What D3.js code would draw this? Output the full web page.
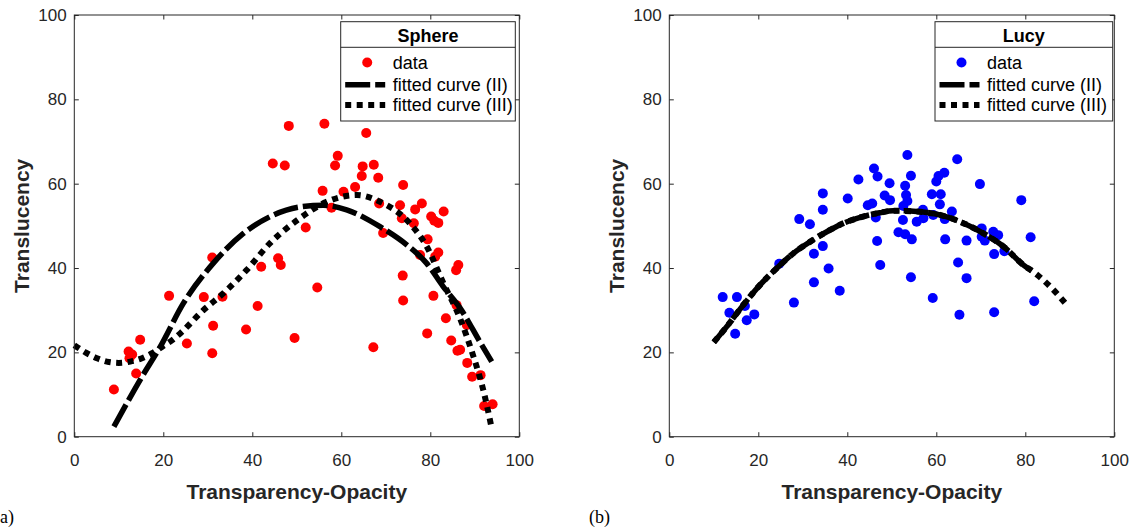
<!DOCTYPE html>
<html>
<head>
<meta charset="utf-8">
<script src="https://cdn.jsdelivr.net/npm/d3@7"></script>
<style>
    body { margin: 0; background: #fff; }
    svg { display: block; font-family: "Liberation Sans", Arial, sans-serif; }
</style>
</head>
<body>
<svg id="chart" width="1134" height="529"></svg>
<script>
/*
* Two scatter plots with fitted curves (Sphere and Lucy)
*/

var xTicks = [0, 20, 40, 60, 80, 100];
var yTicks = [0, 20, 40, 60, 80, 100];
var legendLabels = ["data", "fitted curve (II)", "fitted curve (III)"];

//Sphere measurements [transparency-opacity, translucency]
var sphereData = [
    [8.9, 11.2], [12.2, 20.2], [13.0, 19.5], [12.4, 18.6], [13.9, 15.0], [14.8, 23.0], [21.3, 33.4],
    [25.3, 22.1], [29.1, 33.1], [31.0, 42.5], [31.2, 26.3], [31.0, 19.8], [33.3, 33.2], [38.6, 25.4],
    [41.2, 31.0], [42.0, 40.3], [44.6, 64.8], [45.8, 42.3], [46.4, 40.7], [47.3, 64.3], [48.2, 73.7],
    [49.5, 23.4], [52.0, 49.6], [54.6, 35.4], [55.8, 58.3], [56.2, 74.2], [57.8, 54.3], [58.6, 64.3],
    [59.2, 66.6], [60.5, 58.1], [63.1, 59.2], [64.6, 61.8], [64.8, 64.1], [65.6, 72.0], [67.2, 21.2],
    [67.3, 64.5], [68.3, 61.4], [68.5, 55.3], [69.4, 48.3], [73.2, 54.9], [73.6, 51.8], [73.8, 38.2],
    [73.9, 59.7], [73.9, 32.3], [76.3, 50.6], [76.6, 53.9], [77.7, 43.1], [78.1, 55.3], [79.3, 24.5],
    [79.4, 46.8], [80.2, 52.2], [80.7, 33.4], [80.9, 51.2], [81.1, 42.7], [81.8, 50.7], [81.8, 43.7],
    [83.0, 53.4], [83.5, 28.1], [84.7, 22.8], [85.8, 39.5], [85.9, 31.2], [86.1, 20.4], [86.3, 40.7],
    [86.7, 20.6], [88.2, 26.5], [88.3, 17.5], [89.4, 14.2], [91.3, 14.6], [92.1, 7.3], [94.0, 7.7]
];
var sphereFit2X = [8.9, 15.2, 19.3, 24.5, 31.2, 38.0, 44.0, 50.7, 56.0, 61.2, 68.7, 74.7, 79.2, 82.9, 86.7, 91.2, 93.8];
var sphereFit2Y = [2.4, 14.2, 21.3, 31.6, 41.1, 48.2, 52.2, 54.5, 54.9, 53.8, 49.8, 45.5, 41.1, 35.6, 30.5, 22.4, 17.8];
var sphereFit3X = [0, 2.5, 5.1, 7.3, 10.0, 12.6, 15.2, 17.5, 19.7, 22.0, 23.8, 29.0, 33.5, 38.7, 44.0, 50.7, 56.7, 63.5, 68.7, 75.4, 79.2, 82.9, 86.7, 89.7, 91.9, 93.8];
var sphereFit3Y = [21.7, 20.0, 18.6, 17.8, 17.5, 17.8, 18.6, 19.8, 21.3, 22.9, 24.5, 30.0, 34.0, 39.5, 45.9, 51.8, 55.7, 57.3, 55.7, 50.6, 45.1, 36.5, 28.0, 19.0, 11.1, 2.0];

//Lucy measurements
var lucyData = [
    [12.0, 33.1], [15.2, 33.1], [13.5, 29.4], [17.0, 31.0], [19.1, 29.0], [17.4, 27.6], [14.8, 24.4],
    [28.0, 31.8], [24.7, 41.0], [29.2, 51.6], [31.6, 50.4], [34.5, 57.7], [34.5, 53.8], [34.5, 45.2],
    [32.5, 43.4], [35.8, 39.9], [32.5, 36.6], [38.3, 34.6], [40.1, 56.5], [42.5, 61.0], [46.0, 63.6],
    [46.8, 61.7], [44.6, 54.9], [45.6, 55.3], [46.4, 52.0], [46.7, 46.4], [47.4, 40.7], [53.5, 66.8],
    [64.7, 65.8], [49.5, 60.1], [54.3, 61.9], [61.8, 62.6], [60.5, 61.8], [60.0, 60.5], [53.0, 59.5],
    [69.8, 59.9], [79.1, 56.1], [48.4, 57.2], [49.6, 56.1], [53.2, 57.3], [53.5, 55.9], [52.6, 54.7],
    [59.0, 57.5], [61.0, 57.5], [60.8, 55.1], [57.0, 53.8], [63.5, 53.4], [52.5, 51.4], [55.6, 51.0],
    [57.1, 51.8], [59.3, 52.6], [61.9, 51.6], [51.5, 48.5], [53.0, 48.0], [54.5, 46.8], [62.0, 46.8],
    [66.8, 46.5], [70.2, 49.4], [70.2, 47.4], [70.9, 46.5], [72.8, 48.6], [73.9, 47.8], [73.0, 43.3],
    [75.3, 44.0], [81.2, 47.3], [64.9, 41.3], [54.3, 37.8], [66.8, 37.6], [59.2, 32.9], [82.0, 32.1],
    [65.2, 28.9], [73.0, 29.5]
];
var lucyFit2X = [10.0, 12.9, 16.6, 20.4, 24.1, 27.9, 31.6, 35.4, 39.1, 42.9, 47.3, 50.3, 55.6, 60.8, 65.3, 70.6, 75.1, 79.6, 81.8];
var lucyFit2Y = [22.4, 26.1, 31.2, 36.0, 39.9, 43.5, 46.2, 48.6, 50.6, 52.0, 53.1, 53.6, 53.4, 52.6, 51.0, 48.2, 45.1, 40.7, 39.1];
var lucyFit3X = [10.0, 12.9, 16.6, 20.4, 24.1, 27.9, 31.6, 35.4, 39.1, 42.9, 47.3, 50.3, 55.6, 60.8, 65.3, 70.6, 75.1, 79.6, 81.8, 85.6, 89.2];
var lucyFit3Y = [22.4, 26.1, 31.2, 36.0, 39.9, 43.5, 46.2, 48.6, 50.6, 52.0, 53.1, 53.6, 53.4, 52.6, 51.0, 48.2, 45.1, 40.7, 39.1, 35.6, 31.4];

function zipXY(xs, ys) {
    return xs.map(function (d, i) { return [d, ys[i]]; });
}

var panels = [
    {title: "Sphere", color: "#ff0000", left: 74.3, legendX: 340.7, legendW: 174.6, caption: "a)", captionX: 0,
        points: sphereData, fit2: zipXY(sphereFit2X, sphereFit2Y), fit3: zipXY(sphereFit3X, sphereFit3Y)},
    {title: "Lucy", color: "#0000ff", left: 669.3, legendX: 935, legendW: 177.7, caption: "(b)", captionX: 589,
        points: lucyData, fit2: zipXY(lucyFit2X, lucyFit2Y), fit3: zipXY(lucyFit3X, lucyFit3Y)}
];

var axisColor = "#262626";
var plotTop = 15, plotW = 445, plotH = 421.7;
var dashStyle = "25,5", dotStyle = "6,5.5";

var svg = d3.select("#chart");

panels.forEach(function (p, k) {
    var g = svg.append("g").attr("transform", "translate(" + p.left + "," + plotTop + ")");

    var x = d3.scaleLinear().domain([0, 100]).range([0, plotW]);
    var y = d3.scaleLinear().domain([0, 100]).range([plotH, 0]);

    g.append("clipPath").attr("id", "clip" + k)
        .append("rect").attr("width", plotW).attr("height", plotH);

    //Scatter points
    g.append("g").attr("clip-path", "url(#clip" + k + ")")
        .selectAll("circle")
        .data(p.points)
        .enter()
        .append("circle")
        .attr("cx", function (d) { return x(d[0]); })
        .attr("cy", function (d) { return y(d[1]); })
        .attr("r", 5)
        .style("fill", p.color);

    //Fitted curves
    var line = d3.line()
        .x(function (d) { return x(d[0]); })
        .y(function (d) { return y(d[1]); })
        .curve(d3.curveMonotoneX);

    g.append("path").attr("d", line(p.fit2))
        .style("fill", "none").style("stroke", "#000")
        .style("stroke-width", 5.5).style("stroke-dasharray", dashStyle);
    g.append("path").attr("d", line(p.fit3))
        .style("fill", "none").style("stroke", "#000")
        .style("stroke-width", 6).style("stroke-dasharray", dotStyle);

    //Axes, ticks inside on all four sides
    var axes = [
        {ax: d3.axisBottom(x).tickPadding(16.8), pos: [0, plotH], labels: true},
        {ax: d3.axisLeft(y).tickPadding(7.6), pos: [0, 0], labels: true},
        {ax: d3.axisTop(x), pos: [0, 0], labels: false},
        {ax: d3.axisRight(y), pos: [plotW, 0], labels: false}
    ];
    axes.forEach(function (a, i) {
        a.ax.tickValues(i % 2 === 0 ? xTicks : yTicks).tickSizeInner(-4.5).tickSizeOuter(0);
        if (!a.labels) a.ax.tickFormat("");
        var ag = g.append("g")
            .attr("transform", "translate(" + a.pos + ")")
            .call(a.ax);
        ag.select(".domain").remove();
        ag.selectAll("line").style("stroke", axisColor);
        ag.selectAll("text").style("font-size", "17px").style("fill", axisColor)
            .style("font-family", "Liberation Sans, Arial, sans-serif");
    });

    g.append("rect")
        .attr("width", plotW).attr("height", plotH)
        .style("fill", "none").style("stroke", axisColor).style("stroke-width", 1);

    //Axis labels
    g.append("text")
        .attr("x", plotW / 2).attr("y", 484)
        .attr("text-anchor", "middle")
        .style("font-size", "21px").style("font-weight", "bold").style("fill", axisColor)
        .text("Transparency-Opacity");
    g.append("text")
        .attr("transform", "translate(-45," + plotH / 2 + ") rotate(-90)")
        .attr("text-anchor", "middle")
        .style("font-size", "21px").style("font-weight", "bold").style("fill", axisColor)
        .text("Translucency");

    //Legend
    var lg = svg.append("g").attr("transform", "translate(" + p.legendX + ",21.7)");
    lg.append("rect")
        .attr("width", p.legendW).attr("height", 99.3)
        .style("fill", "#fff").style("stroke", axisColor).style("stroke-width", 1);
    lg.append("line")
        .attr("x1", 0).attr("x2", p.legendW).attr("y1", 25.6).attr("y2", 25.6)
        .style("stroke", axisColor).style("stroke-width", 1);
    lg.append("text")
        .attr("x", p.legendW / 2).attr("y", 20)
        .attr("text-anchor", "middle")
        .style("font-size", "18px").style("font-weight", "bold").style("fill", "#000")
        .text(p.title);

    var rowY = [40.8, 63, 83.3];
    lg.selectAll(".entry")
        .data(legendLabels)
        .enter()
        .append("text")
        .attr("class", "entry")
        .attr("x", 52)
        .attr("y", function (d, i) { return rowY[i] + 6.5; })
        .style("font-size", "18px").style("fill", "#000")
        .text(function (d) { return d; });

    lg.append("circle").attr("cx", 26.5).attr("cy", rowY[0]).attr("r", 5).style("fill", p.color);
    lg.append("line").attr("x1", 4.5).attr("x2", 44.5).attr("y1", rowY[1]).attr("y2", rowY[1])
        .style("stroke", "#000").style("stroke-width", 5.5).style("stroke-dasharray", dashStyle);
    lg.append("line").attr("x1", 4.5).attr("x2", 44.5).attr("y1", rowY[2]).attr("y2", rowY[2])
        .style("stroke", "#000").style("stroke-width", 6).style("stroke-dasharray", dotStyle);

    //Caption below each panel
    svg.append("text")
        .attr("x", p.captionX).attr("y", 523)
        .style("font-family", "Liberation Serif, serif").style("font-size", "18px")
        .text(p.caption);
});
</script>
</body>
</html>
